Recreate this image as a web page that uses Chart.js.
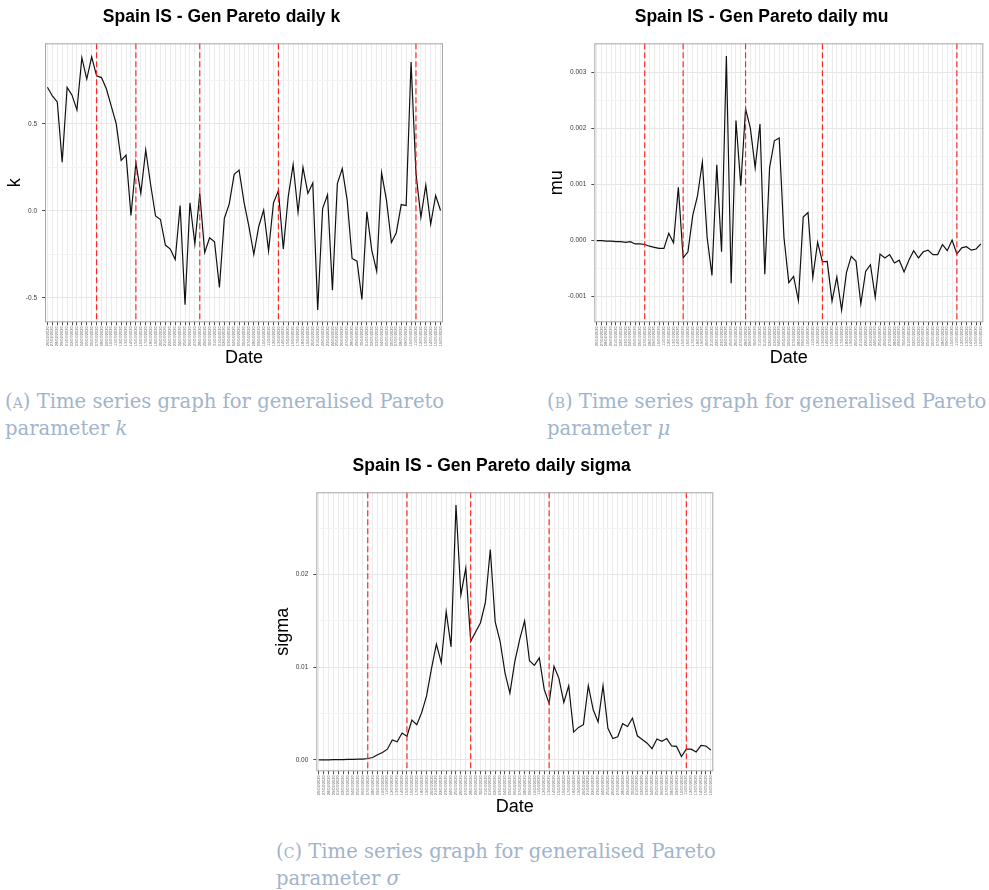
<!DOCTYPE html>
<html>
<head>
<meta charset="utf-8">
<script src="https://cdn.jsdelivr.net/npm/chart.js@4.4.1/dist/chart.umd.min.js"></script>
<style>
  html, body { margin: 0; padding: 0; background: #fff; }
  body { width: 989px; height: 890px; position: relative; overflow: hidden; }
  canvas { position: absolute; }
  .cap {
    position: absolute;
    font-family: 'DejaVu Serif', 'Liberation Serif', serif;
    font-size: 19.6px;
    line-height: 27px;
    color: #a2b4cb;
    white-space: nowrap;
  }
  .sc { font-variant: small-caps; }
</style>
</head>
<body>
<canvas id="chartK" width="450" height="372" style="left:0px;top:0px"></canvas>
<canvas id="chartMu" width="449" height="372" style="left:540px;top:0px"></canvas>
<canvas id="chartSigma" width="450" height="372" style="left:270px;top:449px"></canvas>

<div class="cap" style="left:5px;top:388px">(<span class="sc">a</span>) Time series graph for generalised Pareto<br>parameter <i>k</i></div>
<div class="cap" style="left:547px;top:388px">(<span class="sc">b</span>) Time series graph for generalised Pareto<br>parameter <i>μ</i></div>
<div class="cap" style="left:276px;top:838px">(<span class="sc">c</span>) Time series graph for generalised Pareto<br>parameter <i>σ</i></div>

<script>
// dias (dd/mm/yyyy) - 26/02/2020 .. 16/05/2020
var dates = [
  '26/02/2020','27/02/2020','28/02/2020','29/02/2020',
  '01/03/2020','02/03/2020','03/03/2020','04/03/2020','05/03/2020','06/03/2020','07/03/2020','08/03/2020',
  '09/03/2020','10/03/2020','11/03/2020','12/03/2020','13/03/2020','14/03/2020','15/03/2020','16/03/2020',
  '17/03/2020','18/03/2020','19/03/2020','20/03/2020','21/03/2020','22/03/2020','23/03/2020','24/03/2020',
  '25/03/2020','26/03/2020','27/03/2020','28/03/2020','29/03/2020','30/03/2020','31/03/2020',
  '01/04/2020','02/04/2020','03/04/2020','04/04/2020','05/04/2020','06/04/2020','07/04/2020','08/04/2020',
  '09/04/2020','10/04/2020','11/04/2020','12/04/2020','13/04/2020','14/04/2020','15/04/2020','16/04/2020',
  '17/04/2020','18/04/2020','19/04/2020','20/04/2020','21/04/2020','22/04/2020','23/04/2020','24/04/2020',
  '25/04/2020','26/04/2020','27/04/2020','28/04/2020','29/04/2020','30/04/2020',
  '01/05/2020','02/05/2020','03/05/2020','04/05/2020','05/05/2020','06/05/2020','07/05/2020','08/05/2020',
  '09/05/2020','10/05/2020','11/05/2020','12/05/2020','13/05/2020','14/05/2020','15/05/2020','16/05/2020'
];

// the dates marked with red dashed lines
var eventDays = ['07/03/2020', '15/03/2020', '28/03/2020', '13/04/2020', '11/05/2020'];

var kValues = [
  0.71, 0.66, 0.626, 0.28, 0.71, 0.665, 0.58, 0.88, 0.757, 0.885,
  0.776, 0.766, 0.70, 0.60, 0.50, 0.29, 0.32, -0.027, 0.276, 0.10,
  0.35, 0.15, -0.03, -0.05, -0.197, -0.22, -0.28, 0.03, -0.54, 0.046,
  -0.19, 0.10, -0.24, -0.155, -0.178, -0.44, -0.044, 0.04, 0.21, 0.234,
  0.05, -0.09, -0.25, -0.09, 0.004, -0.23, 0.046, 0.115, -0.22, 0.08,
  0.266, -0.008, 0.25, 0.10, 0.16, -0.57, 0.013, 0.092, -0.456, 0.157,
  0.243, 0.06, -0.274, -0.29, -0.51, -0.006, -0.226, -0.347, 0.218, 0.06,
  -0.182, -0.126, 0.036, 0.03, 0.856, 0.215, -0.038, 0.148, -0.077, 0.088, 0.002
];

var muValues = [
  0, 0, -0.00001, -0.00001, -0.00002, -0.00002, -0.00003, -0.00002, -0.00006, -0.00006,
  -0.00007, -0.0001, -0.00012, -0.00014, -0.00014, 0.00013, -0.00004, 0.00095, -0.00031, -0.0002,
  0.00045, 0.0008, 0.0014, 0.00005, -0.00062, 0.00135, -0.0002, 0.00329, -0.00076, 0.00214,
  0.00098, 0.00235, 0.002, 0.0013, 0.00208, -0.0006, 0.0013, 0.00178, 0.00183, 0.00005,
  -0.00075, -0.00064, -0.00107, 0.00042, 0.0005, -0.00066, -0.00003, -0.00038, -0.00037, -0.00108,
  -0.00065, -0.00124, -0.00057, -0.00028, -0.00037, -0.00113, -0.00055, -0.00043, -0.00101, -0.00024,
  -0.00031, -0.00025, -0.0004, -0.00035, -0.00056, -0.00035, -0.00018, -0.00031, -0.0002, -0.00017,
  -0.00025, -0.00025, -0.00007, -0.00018, 0.00001, -0.00024, -0.00013, -0.00011, -0.00017, -0.00015, -0.00006
];

var sigmaValues = [
  0, 0, 0, 0.00002, 0.00004, 0.00003, 0.00006, 0.00005, 0.00008, 0.00007,
  0.00015, 0.00025, 0.00055, 0.0008, 0.00115, 0.00215, 0.00195, 0.0029, 0.00255, 0.0043,
  0.0038, 0.0051, 0.0069, 0.00985, 0.0125, 0.0105, 0.016, 0.0122, 0.0275, 0.0178,
  0.0207, 0.0128, 0.0138, 0.0148, 0.017, 0.0227, 0.0149, 0.0128, 0.0094, 0.0072,
  0.0106, 0.013, 0.015, 0.0107, 0.0102, 0.011, 0.0076, 0.0061, 0.0101, 0.0088,
  0.0062, 0.008, 0.003, 0.0035, 0.0038, 0.008, 0.0054, 0.0041, 0.008, 0.0034,
  0.0023, 0.0025, 0.0039, 0.0036, 0.0045, 0.0026, 0.0022, 0.0018, 0.0012, 0.00225,
  0.002, 0.0023, 0.0015, 0.00145, 0.00035, 0.00115, 0.00115, 0.00085, 0.00155, 0.0015, 0.00105
];

// y grid: every break, labelled ones are the major ones
var kBreaks = [-0.5, -0.25, 0, 0.25, 0.5, 0.75];
var kLabels = [-0.5, 0, 0.5];
var muBreaks = [-0.001, -0.0005, 0, 0.0005, 0.001, 0.0015, 0.002, 0.0025, 0.003];
var muLabels = [-0.001, 0, 0.001, 0.002, 0.003];
var sigmaBreaks = [0, 0.005, 0.01, 0.015, 0.02, 0.025];
var sigmaLabels = [0, 0.01, 0.02];

Chart.defaults.font.family = "'Liberation Sans', Arial, sans-serif";

var panelPlugin = {
  id: 'panel',
  afterDatasetsDraw: function (chart) {
    var ctx = chart.ctx, a = chart.chartArea, x = chart.scales.x;
    ctx.save();
    ctx.strokeStyle = 'rgba(255,20,20,0.9)';
    ctx.lineWidth = 1.2;
    ctx.setLineDash([6, 3]);
    eventDays.forEach(function (d) {
      var px = x.getPixelForValue(dates.indexOf(d));
      ctx.beginPath();
      ctx.moveTo(px, a.top);
      ctx.lineTo(px, a.bottom);
      ctx.stroke();
    });
    ctx.restore();
  },
  afterDraw: function (chart) {
    var ctx = chart.ctx, a = chart.chartArea;
    ctx.save();
    ctx.strokeStyle = '#a6a6a6';
    ctx.lineWidth = 1;
    ctx.strokeRect(a.left + 0.5, a.top + 0.5, a.right - a.left - 1, a.bottom - a.top - 1);
    ctx.restore();
  }
};

function isIn(list, v) {
  return list.some(function (m) { return Math.abs(m - v) < 1e-12; });
}

function makeChart(id, values, cfg) {
  var el = document.getElementById(id);
  var H = el.height;
  return new Chart(el.getContext('2d'), {
    type: 'line',
    data: {
      labels: dates,
      datasets: [{
        data: values,
        borderColor: '#111',
        borderWidth: 1.2,
        pointRadius: 0,
        tension: 0,
        fill: false
      }]
    },
    options: {
      responsive: false,
      animation: false,
      devicePixelRatio: 1,
      layout: { padding: { left: 0, right: cfg.padRight, top: 0, bottom: 0 } },
      plugins: {
        legend: { display: false },
        tooltip: { enabled: false },
        title: {
          display: true,
          text: cfg.title,
          color: '#000',
          font: { size: 17.5, weight: 'bold' },
          padding: { top: 6.4, bottom: 15.9 }
        }
      },
      scales: {
        x: {
          type: 'category',
          offset: true,
          border: { display: false },
          grid: { offset: false, color: '#ebebeb', lineWidth: 1, tickLength: 3, tickColor: '#4d4d4d' },
          ticks: { autoSkip: false, minRotation: 90, maxRotation: 90, padding: 1, color: '#6a6a6a', font: { size: 4 } },
          title: { display: true, text: 'Date', color: '#000', font: { size: 18 }, padding: { top: 0, bottom: 2.9 } },
          afterFit: function (s) { s.height = H - 322.3; }
        },
        y: {
          min: cfg.min,
          max: cfg.max,
          border: { display: false },
          afterBuildTicks: function (s) {
            s.ticks = cfg.breaks.map(function (v) { return { value: v }; });
          },
          grid: {
            color: function (c) { return isIn(cfg.labels, c.tick.value) ? '#e6e6e6' : '#f3f3f3'; },
            tickColor: function (c) { return isIn(cfg.labels, c.tick.value) ? '#4d4d4d' : 'rgba(0,0,0,0)'; },
            tickLength: 3
          },
          ticks: {
            padding: 5,
            color: '#3a3a3a',
            font: { size: 6.5 },
            callback: function (v) { return isIn(cfg.labels, v) ? v.toFixed(cfg.digits) : ''; }
          },
          title: { display: true, text: cfg.yTitle, color: '#000', font: { size: 18 }, padding: { top: cfg.yTitlePad, bottom: 0 } },
          afterFit: function (s) { s.width = cfg.yWidth; }
        }
      }
    },
    plugins: [panelPlugin]
  });
}

makeChart('chartK', kValues, {
  title: 'Spain IS - Gen Pareto daily k', yTitle: 'k',
  min: -0.641, max: 0.963, breaks: kBreaks, labels: kLabels, digits: 1,
  yWidth: 45, padRight: 7, yTitlePad: 4.7
});

makeChart('chartMu', muValues, {
  title: 'Spain IS - Gen Pareto daily mu', yTitle: 'mu',
  min: -0.001457, max: 0.003518, breaks: muBreaks, labels: muLabels, digits: 3,
  yWidth: 54.3, padRight: 5.7, yTitlePad: 6.3
});

makeChart('chartSigma', sigmaValues, {
  title: 'Spain IS - Gen Pareto daily sigma', yTitle: 'sigma',
  min: -0.001235, max: 0.02888, breaks: sigmaBreaks, labels: sigmaLabels, digits: 2,
  yWidth: 46.3, padRight: 6.7, yTitlePad: 2.5
});
</script>
</body>
</html>
